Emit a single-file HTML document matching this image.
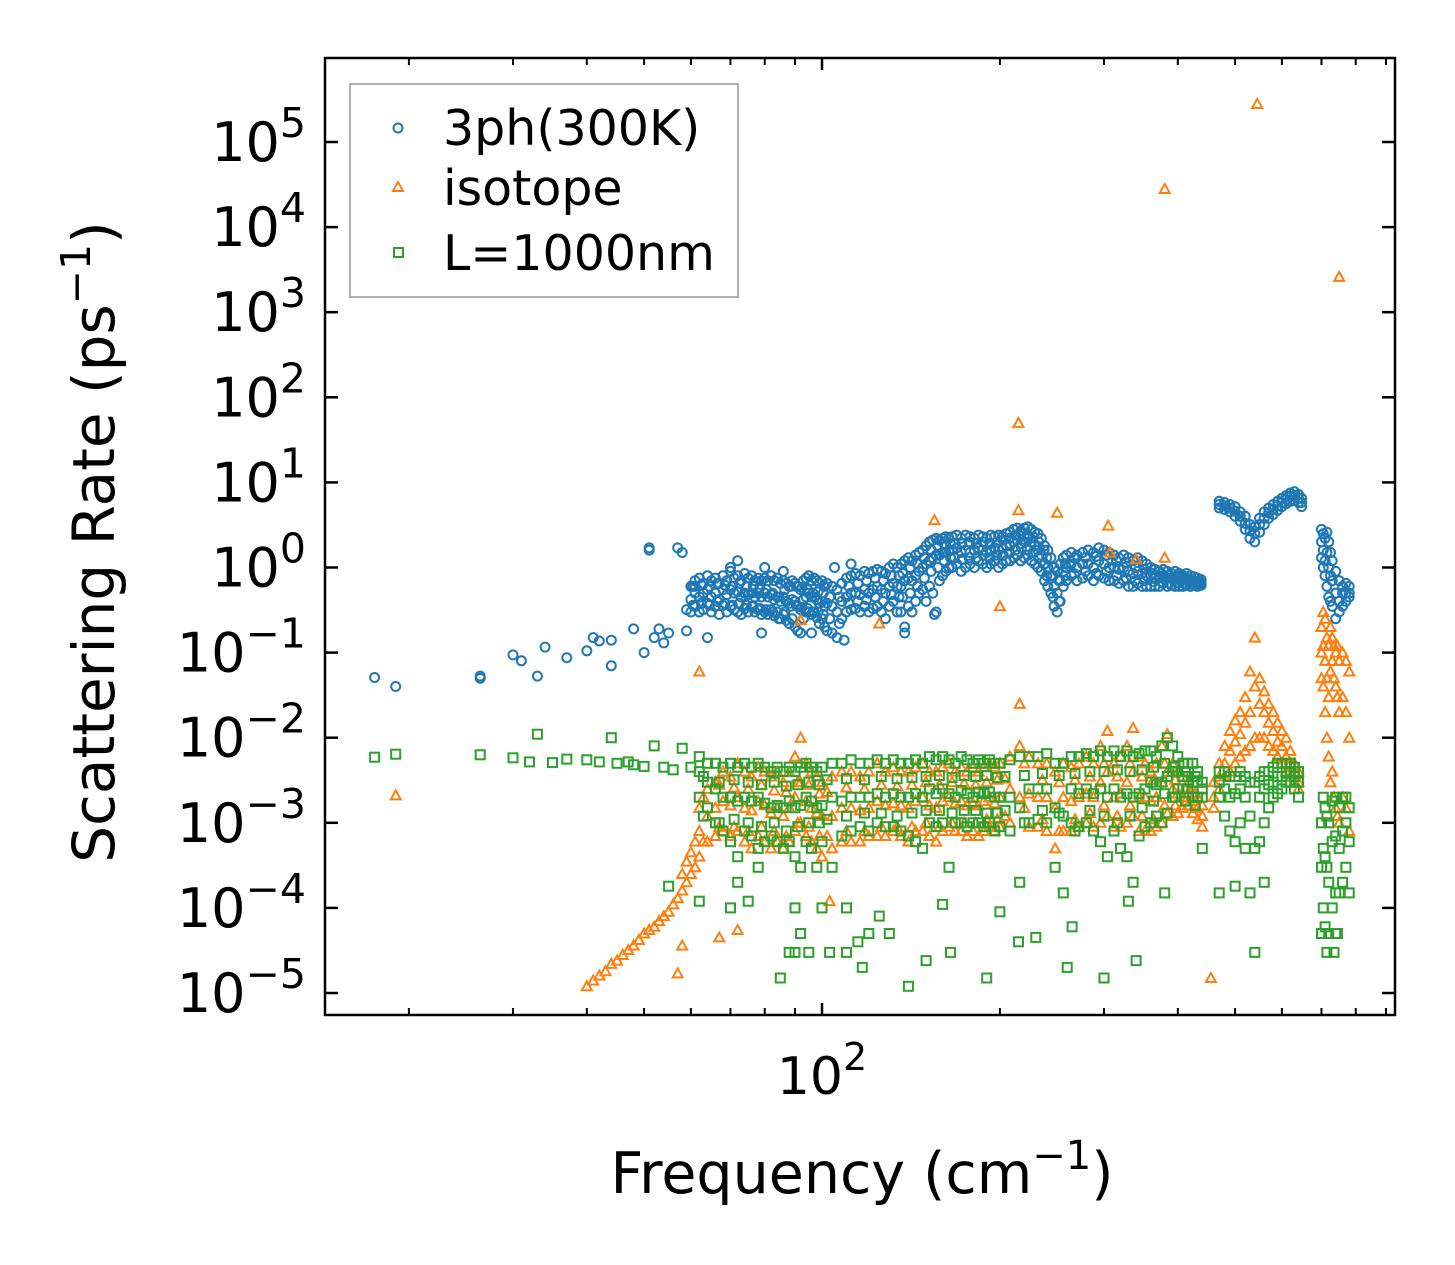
<!DOCTYPE html>
<html><head><meta charset="utf-8"><title>Scattering Rate vs Frequency</title>
<style>
html,body{margin:0;padding:0;background:#fff;}
svg{display:block;font-family:"DejaVu Sans","Liberation Sans",sans-serif;}
</style></head>
<body>
<svg id="chart" width="1455" height="1265" viewBox="0 0 1455 1265" xmlns="http://www.w3.org/2000/svg">
<defs><clipPath id="clip"><rect x="325" y="58" width="1070" height="957"/></clipPath></defs>
<rect x="0" y="0" width="1455" height="1265" fill="#fff"/>
<g id="marks" clip-path="url(#clip)"></g>
<rect x="325" y="58" width="1070" height="957" fill="none" stroke="#000" stroke-width="2.5"/>
<g id="ticks"></g>
<g id="ylabels"></g>
<text x="822" y="1094" font-size="52" text-anchor="middle">10<tspan dy="-24" font-size="38">2</tspan></text>
<text x="862" y="1193" font-size="57" text-anchor="middle">Frequency (cm<tspan dy="-24" font-size="40">−1</tspan><tspan dy="24">)</tspan></text>
<text transform="translate(114,542) rotate(-90)" font-size="58" text-anchor="middle">Scattering Rate (ps<tspan dy="-24" font-size="41">−1</tspan><tspan dy="24">)</tspan></text>
<g>
<rect x="350" y="84" width="388" height="213" fill="#fff" stroke="#999" stroke-width="1.5"/>
<circle cx="398" cy="128" r="4.5" fill="none" stroke="#1f77b4" stroke-width="2"/>
<text x="443" y="145" font-size="49">3ph(300K)</text>
<polygon points="398,182 403,191 393,191" fill="none" stroke="#ff7f0e" stroke-width="2"/>
<text x="443" y="205" font-size="49">isotope</text>
<rect x="394" y="248" width="9" height="9" fill="none" stroke="#2ca02c" stroke-width="2"/>
<text x="443" y="270" font-size="49">L=1000nm</text>
</g>
</svg>
<script>
// ---- data ----
const yTickExps = [-5,-4,-3,-2,-1,0,1,2,3,4,5];
const xMinorTicks = [20,30,40,50,60,70,80,90,200,300,400,500,600,700,800,900];
const xMajorTicks = [100];

// 3ph band
const phF = [60,61,62,63,64,65,66,67,68,69,70,71,72,73,74,75,76,77,78,79,80,81,82,83,84,85,86,87,88,89,90,91,92,93,94,95,96,97,98,99,100,101,102,104,106,108,110,112,114,116,118,120,122,124,126,128,130,132,134,136,138,140,142,144,146,148,150,152,154,156,158,160,162,164,166,169,172,175,178,181,184,187,190,193,196,199,202,205,208,211,214,217,220,223,226,229,232,235,238,241,244,247,250,253,256,259,264,270,276,282,288,294,300,306,312,318,324,330,336,342,348,354,360,366,372,378,384,390,396,402,408,414,420,426,432,438,470,480,490,500,510,520,530,540,550,560,570,580,590,600,610,620,630,640,648,700,705,710,715,720,725,730,740,750,760,770,780];
const phHi = [.6,.7,.75,.65,.8,.7,.75,.65,.8,.7,.9,.75,.8,.7,.85,.75,.8,.7,.75,.7,.75,.7,.8,.7,.75,.65,.7,.65,.6,.7,.65,.6,.55,.7,.75,.8,.7,.75,.7,.65,.7,.6,.65,.6,.55,.65,.75,.8,.85,.8,.9,.85,.9,.95,.9,.85,1.0,1.1,1.0,1.1,1.2,1.3,1.2,1.4,1.5,1.6,1.8,2.0,2.1,2.2,2.1,2.2,2.3,2.2,2.3,2.4,2.2,2.4,2.3,2.2,2.4,2.3,2.2,2.4,2.3,2.4,2.3,2.5,2.6,2.8,2.9,2.7,2.9,3.0,2.8,2.6,2.5,2.2,1.8,1.6,1.3,1.0,.9,1.1,1.3,1.4,1.5,1.4,1.5,1.6,1.5,1.7,1.6,1.5,1.4,1.3,1.4,1.3,1.2,1.3,1.2,1.1,1.0,.95,.9,.95,.9,.85,.9,.85,.8,.85,.8,.78,.75,.72,6.0,5.8,5.5,5.2,4.5,4.0,3.2,3.0,3.8,4.5,5.0,5.5,6.0,6.5,7.0,7.5,7.8,7.2,6.5,2.8,2.5,2.2,2.6,2.0,1.5,1.2,.9,.7,.6,.65,.6];
const phMid = [.42,.5,.45,.5,.55,.45,.5,.42,.55,.48,.55,.5,.52,.45,.5,.48,.5,.45,.5,.45,.5,.45,.48,.42,.45,.4,.45,.4,.38,.42,.4,.35,.32,.42,.45,.5,.45,.45,.42,.38,.4,.35,.38,.35,.3,.4,.45,.5,.5,.48,.55,.5,.55,.6,.55,.5,.6,.65,.6,.6,.7,.75,.7,.8,.9,1.0,1.1,1.2,1.3,1.4,1.4,1.5,1.5,1.6,1.6,1.7,1.5,1.6,1.5,1.6,1.7,1.6,1.5,1.6,1.7,1.6,1.7,1.8,1.8,2.0,2.1,1.9,2.0,2.2,2.0,1.8,1.6,1.4,1.1,1.0,.8,.6,.5,.7,.9,1.0,1.1,1.0,1.1,1.1,1.0,1.2,1.1,1.0,1.0,.95,1.0,.9,.85,.9,.85,.8,.8,.75,.75,.8,.75,.75,.78,.72,.72,.75,.7,.7,.68,.66,5.5,5.3,5.0,4.6,4.0,3.3,2.7,2.5,3.2,3.8,4.4,4.8,5.3,5.8,6.3,6.8,7.0,6.5,5.8,2.0,1.6,1.2,1.5,1.0,.8,.7,.5,.4,.5,.5,.5];
const phLo = [.3,.35,.3,.32,.38,.3,.35,.28,.36,.3,.35,.32,.3,.28,.33,.3,.35,.3,.32,.28,.3,.28,.32,.27,.3,.25,.28,.24,.22,.25,.2,.18,.17,.25,.3,.3,.28,.3,.26,.22,.25,.2,.18,.17,.15,.25,.3,.32,.33,.3,.35,.3,.33,.35,.3,.25,.35,.4,.3,.3,.2,.35,.3,.4,.5,.55,.4,.6,.5,.3,.7,.8,.9,1.0,1.0,1.1,.9,1.0,1.1,1.0,1.2,1.1,1.0,1.1,1.2,1.0,1.1,1.2,1.2,1.3,1.4,1.2,1.3,1.4,1.2,1.1,1.0,.9,.7,.6,.5,.35,.3,.4,.6,.7,.8,.7,.75,.8,.7,.8,.75,.7,.7,.65,.7,.6,.6,.65,.6,.6,.6,.6,.6,.65,.6,.62,.6,.6,.6,.62,.6,.62,.6,.62,5.0,4.8,4.5,4.0,3.5,2.8,2.2,2.0,2.6,3.2,3.8,4.2,4.7,5.2,5.6,6.0,6.2,5.8,5.2,1.3,1.0,.8,.6,.45,.4,.35,.25,.3,.35,.4,.45];
const phF2 = [60.5,62.5,64.5,66.5,68.5,70.5,72.5,74.5,76.5,78.5,80.5,82.5,84.5,86.5,88.5,90.5,92.5,94.5,96.5,98.5,100.5,103,107,111,115,119,123,127,131,135,137,141,145,149,153,157,161,165,167.5,172.5,177.5,182.5,187.5,192.5,197.5,202.5,207.5,212.5,217.5,222.5,227.5,232.5,237.5,240,246,252,258,267,279,291,303,315,327,339,351,363,375,387,399,411,423,435];
const phHi2 = [.6,.62,.6,.65,.62,.6,.65,.6,.6,.58,.55,.5,.45,.55,.6,.6,.58,.55,.5,.52,.5,.45,.45,.6,.65,.7,.75,.7,.8,.8,.85,1.0,1.1,1.3,1.6,1.8,1.9,1.9,1.9,1.9,2.0,1.9,2.0,1.9,2.0,2.1,2.2,2.4,2.5,2.4,2.3,2.0,1.6,1.3,.8,.7,1.1,1.3,1.3,1.35,1.4,1.2,1.15,1.0,.95,.85,.85,.8,.8,.75,.72,.7];
const phLo2 = [.36,.38,.36,.4,.38,.36,.38,.36,.35,.33,.32,.3,.25,.3,.35,.36,.34,.33,.3,.3,.28,.25,.22,.38,.4,.42,.45,.4,.48,.45,.45,.5,.6,.75,.9,1.0,1.2,1.3,1.3,1.25,1.3,1.3,1.4,1.3,1.4,1.4,1.5,1.6,1.7,1.6,1.5,1.3,1.1,.8,.45,.4,.8,.85,.9,.85,.9,.8,.75,.7,.7,.68,.68,.66,.66,.64,.64,.63];
const phExtraF = [17.5,19,26.4,26.4,30,31,33,34,37,40,41,42,44,44,48,50,51,51,52,53,54,55,57,58,59,59,61,64,72,79,96,109,138,155,70,80,86,105,112];
const phExtraR = [.051,.040,.053,.05,.094,.08,.053,.116,.087,.105,.15,.137,.14,.07,.19,.1,1.6,1.7,.15,.19,.13,.17,1.7,1.5,.18,.32,.6,.15,1.2,.17,.17,.14,.17,.28,1.0,1.0,.9,1.0,1.1];

// isotope band
const isoF = [62,64,66,68,70,72,74,76,78,80,82,84,86,88,90,92,94,96,98,100,104,108,112,116,120,124,128,132,136,140,144,148,152,156,160,164,168,172,176,180,184,188,192,196,200,208,216,224,232,240,248,256,264,272,280,288,296,304,312,320,328,336,344,352,360,368,376,384,392,400,408,416,424,432,440,460,470,480,490,500,510,520,530,540,550,560,570,580,590,600,610,620,630,640,700,705,710,715,720,725,730,735,740,745,750,760,770,780];
const isoHi = [1.5e-3,2.5e-3,3e-3,4e-3,3.5e-3,5e-3,4e-3,3.5e-3,4.5e-3,4e-3,3.5e-3,4e-3,3e-3,4e-3,6e-3,1e-2,5e-3,4e-3,3.5e-3,3e-3,3.5e-3,4e-3,4e-3,3.5e-3,4e-3,5e-3,4e-3,4.5e-3,4e-3,4e-3,4.5e-3,5e-3,4e-3,4e-3,4.5e-3,5e-3,4e-3,4.5e-3,4e-3,4.5e-3,4e-3,4.5e-3,5e-3,4.5e-3,5e-3,6e-3,2.5e-2,6e-3,5e-3,5e-3,4e-3,5e-3,4.5e-3,5e-3,6e-3,5e-3,8e-3,1.2e-2,5e-3,6e-3,8e-3,1.3e-2,6e-3,5e-3,4e-3,5e-3,8e-3,1.1e-2,5e-3,4e-3,3.5e-3,3e-3,2.5e-3,2e-3,1.6e-3,3e-3,5e-3,8e-3,1.2e-2,1.6e-2,2e-2,3e-2,6e-2,.15,5e-2,3.5e-2,2.5e-2,2e-2,1.5e-2,1.2e-2,1e-2,7e-3,5e-3,4e-3,.2,.3,.25,.15,.12,.2,.15,.12,.1,.12,.08,.1,.08,.06];
const isoMid = [8e-4,1.2e-3,1.5e-3,1.8e-3,1.6e-3,2e-3,1.5e-3,1.4e-3,1.8e-3,1.6e-3,1.3e-3,1.5e-3,1.2e-3,1.5e-3,2e-3,3e-3,1.8e-3,1.5e-3,1.3e-3,1.2e-3,1.2e-3,1.5e-3,1.5e-3,1.4e-3,1.5e-3,1.8e-3,1.6e-3,1.7e-3,1.6e-3,1.5e-3,1.8e-3,2e-3,1.6e-3,1.5e-3,1.8e-3,2e-3,1.7e-3,1.8e-3,1.6e-3,1.7e-3,1.6e-3,1.8e-3,2e-3,1.7e-3,2e-3,2.5e-3,8e-3,2.2e-3,2e-3,2e-3,1.5e-3,2e-3,1.8e-3,2e-3,2.2e-3,2e-3,3e-3,4e-3,2e-3,2.2e-3,3e-3,4e-3,2e-3,2e-3,1.8e-3,2e-3,3e-3,4e-3,2.5e-3,2.2e-3,2e-3,2.2e-3,1.8e-3,1.5e-3,1.2e-3,2e-3,3.5e-3,5e-3,7e-3,9e-3,1.1e-2,1.5e-2,2e-2,4e-2,2.5e-2,2e-2,1.5e-2,1.2e-2,9e-3,8e-3,6e-3,5e-3,4e-3,3e-3,.1,.12,.08,.05,.03,.06,.08,.05,.04,.03,.02,.03,.02,.01];
const isoLo = [4e-4,6e-4,7e-4,8e-4,7e-4,8e-4,6e-4,5e-4,7e-4,6e-4,5e-4,6e-4,5e-4,6e-4,8e-4,1e-3,7e-4,6e-4,5e-4,4e-4,5e-4,6e-4,6e-4,6e-4,7e-4,7e-4,7e-4,8e-4,7e-4,6e-4,8e-4,8e-4,7e-4,6e-4,8e-4,9e-4,8e-4,8e-4,7e-4,8e-4,7e-4,8e-4,9e-4,8e-4,9e-4,1e-3,2e-3,9e-4,9e-4,8e-4,5e-4,8e-4,8e-4,9e-4,1e-3,9e-4,1e-3,1.2e-3,9e-4,9e-4,1e-3,1.2e-3,8e-4,8e-4,8e-4,9e-4,1e-3,1.3e-3,1.2e-3,1.3e-3,1.5e-3,1.6e-3,1.3e-3,1.1e-3,9e-4,1.5e-3,2.5e-3,3.5e-3,4e-3,5e-3,6e-3,7e-3,8e-3,1e-2,1e-2,1e-2,8e-3,7e-3,6e-3,5e-3,4e-3,3.5e-3,3e-3,2.5e-3,.05,.04,.02,.01,6e-3,3e-3,4e-3,2e-3,1.5e-3,1.2e-3,1e-3,2e-3,1.5e-3,8e-4];
const isoF2 = [63,67,71,75,79,83,87,91,95,99,102,110,118,126,134,142,150,158,166,174,182,190,198,204,220,236,252,268,284,300,316,332,348,364,380,396,412,428];
const isoQ1 = [2e-3,2.8e-3,2.6e-3,2.5e-3,2.8e-3,2.4e-3,2.3e-3,3e-3,2.8e-3,2.2e-3,2.3e-3,2.6e-3,2.5e-3,2.8e-3,2.7e-3,2.8e-3,3e-3,2.8e-3,3e-3,2.9e-3,2.8e-3,3e-3,3.2e-3,3.3e-3,5e-3,3.2e-3,3e-3,3.2e-3,3.5e-3,5e-3,3.5e-3,5e-3,3.5e-3,3.2e-3,5e-3,3.2e-3,2.6e-3,2.2e-3];
const isoQ2 = [6e-4,9e-4,9e-4,8e-4,9e-4,8e-4,7e-4,1e-3,9e-4,7e-4,7e-4,8e-4,8e-4,9e-4,9e-4,9e-4,1e-3,9e-4,1e-3,1e-3,1e-3,1.1e-3,1.1e-3,1.2e-3,1.5e-3,1.1e-3,8e-4,1.1e-3,1.3e-3,1.6e-3,1.2e-3,1.6e-3,1.2e-3,1.1e-3,1.6e-3,1.6e-3,1.8e-3,1.6e-3];
const isoExtraF = [40,41,42,43,44,45,46,47,48,49,50,51,52,53,54,55,56,57,58,59,60,61,58,59,60,61,19,62,92,125,155,200,215,215,250,305,307,340,380,380,545,750,455,67,57,72,58,103];
const isoExtraR = [1.2e-5,1.4e-5,1.6e-5,1.8e-5,2.2e-5,2.4e-5,2.8e-5,3.2e-5,3.6e-5,4.2e-5,5e-5,5.5e-5,6e-5,7e-5,8e-5,9e-5,1.1e-4,1.3e-4,1.6e-4,2e-4,2.5e-4,3e-4,2.5e-4,3.5e-4,4.5e-4,6e-4,2.1e-3,.06,.24,.22,3.6,.35,50,4.7,4.4,3.1,1.5,1.25,1.3,2.8e4,2.8e5,2.6e3,1.5e-5,4.5e-5,1.7e-5,5.5e-5,3.6e-5,1.2e-4];

// boundary (L=1000nm) band
const bdF = [62,64,66,68,70,72,74,76,78,80,82,84,86,88,90,92,94,96,98,100,104,108,112,116,120,124,128,132,136,140,144,148,152,156,160,164,168,172,176,180,184,188,192,196,200,208,216,224,232,240,248,256,264,272,280,288,296,304,312,320,328,336,344,352,360,368,376,384,392,400,408,416,424,432,440,470,480,490,500,510,520,530,540,550,560,570,580,590,600,610,620,630,640,700,705,710,715,720,730,740,750,760,770,780];
const bdHi = [6e-3,5e-3,5e-3,4.5e-3,5e-3,4.5e-3,5e-3,4.5e-3,5e-3,4.5e-3,4e-3,4.5e-3,4e-3,4.5e-3,4e-3,4.5e-3,5e-3,4.5e-3,4e-3,4.5e-3,5e-3,5e-3,5.5e-3,5e-3,5e-3,5.5e-3,5e-3,5.5e-3,5e-3,5e-3,5.5e-3,5e-3,6e-3,5.5e-3,6e-3,5.5e-3,5e-3,6e-3,5.5e-3,5e-3,5.5e-3,5e-3,5.5e-3,5e-3,5e-3,5.5e-3,6e-3,6e-3,6e-3,6.5e-3,5e-3,5e-3,6e-3,6e-3,6.5e-3,6e-3,7e-3,6e-3,7e-3,6e-3,7e-3,6e-3,6.5e-3,7e-3,7e-3,6e-3,8e-3,1e-2,8e-3,6e-3,5e-3,5e-3,5e-3,4e-3,3e-3,4e-3,4e-3,3.5e-3,3.5e-3,4e-3,3.5e-3,3e-3,3e-3,3.5e-3,4e-3,4e-3,4.5e-3,5e-3,5e-3,5e-3,5e-3,4.5e-3,4e-3,1e-3,2e-3,1.5e-3,1.2e-3,1e-3,1.8e-3,2e-3,1.5e-3,2e-3,2e-3,1.5e-3];
const bdMid = [4e-3,3e-3,2.5e-3,2e-3,2e-3,1.8e-3,2e-3,1.8e-3,2e-3,1.7e-3,1.5e-3,1.6e-3,1.5e-3,1.8e-3,1.5e-3,1.6e-3,2e-3,1.8e-3,1.5e-3,1.6e-3,2e-3,1.8e-3,2e-3,2e-3,2e-3,2.2e-3,2e-3,2.2e-3,2e-3,2e-3,2.2e-3,2e-3,2.5e-3,2.2e-3,2.5e-3,2.2e-3,2e-3,2.4e-3,2.2e-3,2e-3,2.3e-3,2.2e-3,2.3e-3,2e-3,2e-3,2e-3,1.5e-3,2.5e-3,2.5e-3,2.5e-3,1.5e-3,1.2e-3,2.5e-3,2.2e-3,2.5e-3,2.2e-3,2.5e-3,2e-3,2.5e-3,2e-3,2.2e-3,2e-3,2.2e-3,2.5e-3,3e-3,2.8e-3,3e-3,3.5e-3,4e-3,4e-3,3.5e-3,3.5e-3,3e-3,3e-3,2.5e-3,3e-3,2.5e-3,2e-3,2.2e-3,2.5e-3,2e-3,1.2e-3,5e-4,2e-3,2.5e-3,2.8e-3,3e-3,3.5e-3,3.5e-3,4e-3,4e-3,3.5e-3,3e-3,3e-4,5e-4,4e-4,3e-4,2e-4,6e-4,7e-4,5e-4,8e-4,1e-3,6e-4];
const bdLo = [2e-3,1.5e-3,1e-3,8e-4,6e-4,4e-4,8e-4,7e-4,3e-4,6e-4,7e-4,6e-4,5e-4,6e-4,4e-4,3e-4,6e-4,5e-4,3e-4,6e-4,3e-4,7e-4,8e-4,9e-4,8e-4,1e-3,9e-4,9e-4,8e-4,7e-4,6e-4,5e-4,1e-3,9e-4,1e-3,3e-4,1e-3,1e-3,9e-4,1e-3,1e-3,9e-4,1e-3,8e-4,9e-4,8e-4,2e-4,1e-3,1.1e-3,1e-3,3e-4,1.5e-4,1e-3,9e-4,1e-3,8e-4,6e-4,4e-4,8e-4,5e-4,4e-4,2e-4,7e-4,9e-4,1e-3,1.2e-3,1e-3,1.3e-3,2e-3,2.5e-3,2.5e-3,2.5e-3,2e-3,2e-3,2e-3,2e-3,1.2e-3,8e-4,6e-4,1e-3,5e-4,1.5e-4,3e-5,6e-4,1e-3,1.5e-3,2e-3,2.2e-3,2.5e-3,3e-3,3e-3,2.5e-3,2e-3,5e-5,1e-4,6e-5,3e-5,5e-5,1e-4,1.5e-4,1.5e-4,2e-4,3e-4,1.5e-4];
const bdF2 = [63,67,71,75,79,83,87,91,95,99,102,110,118,126,134,142,150,158,166,174,182,190,198,204,220,236,252,268,284,300,316,332,348,364,380,396,412,428];
const bdQ1 = [3.5e-3,3e-3,3.2e-3,3e-3,2.8e-3,3e-3,2.7e-3,2.8e-3,3e-3,2.8e-3,3.2e-3,3.3e-3,3.2e-3,3.5e-3,3.3e-3,3.4e-3,3.5e-3,3.6e-3,3.4e-3,3.6e-3,3.5e-3,3.6e-3,3.4e-3,3.5e-3,3.6e-3,3.8e-3,3.6e-3,3.8e-3,4e-3,4e-3,4.2e-3,4e-3,4.2e-3,4.5e-3,5e-3,4.5e-3,4e-3,3.5e-3];
const bdQ2 = [1.2e-3,1e-3,1.1e-3,1e-3,9e-4,1e-3,8e-4,9e-4,1e-3,1e-3,1.1e-3,1.2e-3,1.3e-3,1.3e-3,1.2e-3,1.3e-3,1.4e-3,1.4e-3,1.3e-3,1.4e-3,1.4e-3,1.3e-3,1.3e-3,1.4e-3,1e-3,1.4e-3,1.3e-3,8e-4,1.4e-3,1.2e-3,1e-3,1.2e-3,1.5e-3,1.8e-3,2.2e-3,2e-3,1.8e-3,1.6e-3];
const bdExtraF = [17.5,19,26.4,30,32,33,35,37,40,42,44,45,47,48,50,52,54,56,58,60,85,88,90,92,95,100,103,110,115,117,120,130,140,150,165,190,230,300,340,70,75,72,78,90,110,125,160,200,215,260,265,330,380,440,470,500,560,740,735,745,55,62];
const bdExtraR = [5.9e-3,6.4e-3,6.3e-3,5.8e-3,5.2e-3,.011,5.1e-3,5.6e-3,5.5e-3,5.2e-3,.01,5e-3,5.2e-3,4.8e-3,4.6e-3,8e-3,4.5e-3,4.2e-3,7.5e-3,4.5e-3,1.5e-5,3e-5,3e-5,5e-5,3e-5,1e-4,3e-5,3e-5,4e-5,2e-5,5e-5,5e-5,1.2e-5,2.4e-5,3e-5,1.5e-5,4.5e-5,1.5e-5,2.4e-5,1e-4,1.2e-4,2e-4,5e-4,1e-4,1e-4,8e-5,1.1e-4,9e-5,4e-5,2e-5,6e-5,1.2e-4,1.5e-4,5e-4,1.5e-4,1.8e-4,2e-4,5e-5,3e-5,5e-5,1.8e-4,1.2e-4];

// ---- axes ----
const NS = 'http://www.w3.org/2000/svg';
const X = f => 822 + 591 * Math.log10(f / 100);
const Y = r => 567.5 - 85.1 * Math.log10(r);
const marks = document.getElementById('marks');
const ticks = document.getElementById('ticks');
const ylabels = document.getElementById('ylabels');

function line(g, x1, y1, x2, y2, w) {
  const l = document.createElementNS(NS, 'line');
  l.setAttribute('x1', x1); l.setAttribute('y1', y1);
  l.setAttribute('x2', x2); l.setAttribute('y2', y2);
  l.setAttribute('stroke', '#000'); l.setAttribute('stroke-width', w);
  
  
  g.appendChild(l);
}

yTickExps.forEach(e => {
  const y = Y(Math.pow(10, e));
  line(ticks, 325, y, 338, y, 2.5);
  line(ticks, 1395, y, 1382, y, 2.5);
  const t = document.createElementNS(NS, 'text');
  t.setAttribute('x', 306); t.setAttribute('y', y + 19);
  t.setAttribute('font-size', '54'); t.setAttribute('text-anchor', 'end');
  
  
  const base = document.createElementNS(NS, 'tspan'); base.textContent = '10';
  const sup = document.createElementNS(NS, 'tspan');
  sup.setAttribute('dy', '-24'); sup.setAttribute('font-size', '41');
  sup.textContent = (e < 0 ? '−' : '') + Math.abs(e);
  t.appendChild(base); t.appendChild(sup);
  ylabels.appendChild(t);
});
xMinorTicks.forEach(f => {
  const x = X(f);
  if (x < 326 || x > 1394) return;
  line(ticks, x, 1015, x, 1008, 2);
  line(ticks, x, 58, x, 65, 2);
});
xMajorTicks.forEach(f => {
  const x = X(f);
  line(ticks, x, 1015, x, 1003, 2.5);
  line(ticks, x, 58, x, 70, 2.5);
});

// ---- markers ----
function circle(f, r) {
  const c = document.createElementNS(NS, 'circle');
  c.setAttribute('cx', X(f).toFixed(1)); c.setAttribute('cy', Y(r).toFixed(1));
  c.setAttribute('r', 4.5); c.setAttribute('fill', 'none');
  c.setAttribute('stroke', '#1f77b4'); c.setAttribute('stroke-width', 2);
  
  
  marks.appendChild(c);
}
function tri(f, r) {
  const x = X(f), y = Y(r);
  const p = document.createElementNS(NS, 'polygon');
  p.setAttribute('points', `${x},${y-5} ${x+5},${y+4} ${x-5},${y+4}`);
  p.setAttribute('fill', 'none'); p.setAttribute('stroke', '#ff7f0e'); p.setAttribute('stroke-width', 2);
  
  
  marks.appendChild(p);
}
function square(f, r) {
  const s = document.createElementNS(NS, 'rect');
  s.setAttribute('x', (X(f) - 4.5).toFixed(1)); s.setAttribute('y', (Y(r) - 4.5).toFixed(1));
  s.setAttribute('width', 9); s.setAttribute('height', 9);
  s.setAttribute('fill', 'none'); s.setAttribute('stroke', '#2ca02c'); s.setAttribute('stroke-width', 2);
  
  
  marks.appendChild(s);
}

phF.forEach((f, i) => { circle(f, phHi[i]); circle(f, phMid[i]); circle(f, phLo[i]); });
phF2.forEach((f, i) => { circle(f, phHi2[i]); circle(f, phLo2[i]); });
phExtraF.forEach((f, i) => circle(f, phExtraR[i]));
isoF.forEach((f, i) => { tri(f, isoHi[i]); tri(f, isoMid[i]); tri(f, isoLo[i]); });
isoF2.forEach((f, i) => { tri(f, isoQ1[i]); tri(f, isoQ2[i]); });
isoExtraF.forEach((f, i) => tri(f, isoExtraR[i]));
bdF.forEach((f, i) => { square(f, bdHi[i]); square(f, bdMid[i]); square(f, bdLo[i]); });
bdF2.forEach((f, i) => { square(f, bdQ1[i]); square(f, bdQ2[i]); });
bdExtraF.forEach((f, i) => square(f, bdExtraR[i]));
</script>
</body></html>
